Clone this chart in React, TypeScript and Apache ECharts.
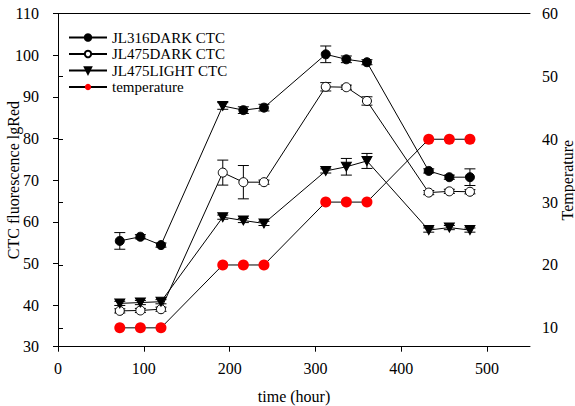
import React, { useEffect, useRef } from "react";
import * as echarts from "echarts";

const times = [72, 96, 120, 192, 216, 240, 312, 336, 360, 432, 456, 480];
const jl316Dark = [55.4, 56.4, 54.4, 87.8, 86.8, 87.4, 100.2, 99.0, 98.3, 72.2, 70.7, 70.7];
const jl316DarkErr = [2, 0.5, 0.5, 0.8, 0.8, 0.8, 2, 0.8, 0.6, 0.5, 0.5, 2];
const jl475Dark = [38.6, 38.7, 39.0, 71.8, 69.5, 69.5, 92.4, 92.3, 89.0, 67.0, 67.3, 67.2];
const jl475DarkErr = [0.5, 0.5, 0.5, 3, 4, 0.5, 1, 0.5, 1, 0.5, 0.5, 0.5];
const jl475Light = [40.4, 40.6, 40.8, 61.1, 60.3, 59.6, 72.2, 73.2, 74.6, 58.0, 58.6, 58.0];
const jl475LightErr = [0.5, 0.5, 0.5, 0.5, 0.5, 0.5, 0.5, 2, 1.8, 0.5, 0.5, 0.5];
const temperature = [10, 10, 10, 20, 20, 20, 30, 30, 30, 40, 40, 40];

const seriesNames = ["JL316DARK CTC", "JL475DARK CTC", "JL475LIGHT CTC", "temperature"];
const xTicks = [0, 100, 200, 300, 400, 500];
const leftTicks = [30, 40, 50, 60, 70, 80, 90, 100, 110];
const rightTicks = [10, 20, 30, 40, 50, 60];

const FONT = "Liberation Serif";

function errSeries(vals: number[], errs: number[]) {
  return {
    type: "custom",
    xAxisIndex: 0,
    yAxisIndex: 0,
    z: 1,
    silent: true,
    data: times.map((t, i) => [t, vals[i], errs[i]]),
    encode: { x: 0, y: 1 },
    renderItem: (params: any, api: any) => {
      const x = api.value(0);
      const y = api.value(1);
      const e = api.value(2);
      const hi = api.coord([x, y + e]);
      const lo = api.coord([x, y - e]);
      const w = 5.5;
      const style = { stroke: "#000", lineWidth: 1 };
      return {
        type: "group",
        children: [
          { type: "line", shape: { x1: hi[0], y1: hi[1], x2: lo[0], y2: lo[1] }, style },
          { type: "line", shape: { x1: hi[0] - w, y1: hi[1], x2: hi[0] + w, y2: hi[1] }, style },
          { type: "line", shape: { x1: lo[0] - w, y1: lo[1], x2: lo[0] + w, y2: lo[1] }, style },
        ],
      };
    },
  };
}

export default function App() {
  const ref = useRef<HTMLDivElement>(null);
  useEffect(() => {
    document.body.style.margin = "0";
    const chart = echarts.init(ref.current!, null, { renderer: "svg" });
    const axisLine = { show: true, lineStyle: { color: "#000", width: 1 } };
    const lbl = { color: "#000", fontSize: 16, fontFamily: FONT };
    const nameStyle = { color: "#000", fontSize: 16, fontFamily: FONT };
    chart.setOption({
      animation: false,
      backgroundColor: "#fff",
      textStyle: { fontFamily: FONT },
      grid: {
        left: 58,
        right: 45,
        top: 13.5,
        bottom: 59.3,
        containLabel: false,
        outerBoundsMode: "none",
      },
      legend: {
        data: seriesNames,
        orient: "vertical",
        left: 63,
        top: 25,
        itemWidth: 38,
        itemHeight: 8,
        itemGap: 1.5,
        textStyle: { color: "#000", fontSize: 15, fontFamily: FONT },
      },
      xAxis: [
        {
          type: "value",
          min: 0,
          max: 550,
          interval: 100,
          name: "time (hour)",
          nameLocation: "middle",
          nameGap: 42,
          nameMoveOverlap: false,
          nameTextStyle: nameStyle,
          axisLine,
          axisTick: { show: true, inside: false, length: 5, customValues: xTicks, lineStyle: { color: "#000" } },
          axisLabel: { ...lbl, margin: 14, customValues: xTicks },
          splitLine: { show: false },
        },
        {
          type: "value",
          position: "top",
          min: 0,
          max: 550,
          axisLine,
          axisTick: { show: false },
          axisLabel: { show: false },
          splitLine: { show: false },
        },
      ],
      yAxis: [
        {
          type: "value",
          min: 30,
          max: 110,
          interval: 10,
          name: "CTC fluorescence lgRed",
          nameLocation: "middle",
          nameRotate: 90,
          nameGap: 37,
          nameMoveOverlap: false,
          nameTextStyle: nameStyle,
          axisLine,
          axisTick: { show: true, inside: false, length: 5, customValues: leftTicks, lineStyle: { color: "#000" } },
          axisLabel: { ...lbl, margin: 19, customValues: leftTicks },
          splitLine: { show: false },
        },
        {
          type: "value",
          position: "right",
          min: 7,
          max: 60,
          name: "Temperature",
          nameLocation: "middle",
          nameRotate: 90,
          nameGap: 29,
          nameMoveOverlap: false,
          nameTextStyle: nameStyle,
          axisLine,
          axisTick: { show: true, inside: false, length: 5, customValues: rightTicks, lineStyle: { color: "#000" } },
          axisLabel: { ...lbl, margin: 12, customValues: rightTicks },
          splitLine: { show: false },
        },
      ],
      series: [
        errSeries(jl316Dark, jl316DarkErr),
        errSeries(jl475Dark, jl475DarkErr),
        errSeries(jl475Light, jl475LightErr),
        {
          name: seriesNames[0],
          type: "line",
          yAxisIndex: 0,
          z: 3,
          symbol: "circle",
          symbolSize: 9,
          showAllSymbol: true,
          lineStyle: { color: "#000", width: 1 },
          itemStyle: { color: "#000", borderColor: "#000", borderWidth: 1 },
          data: times.map((t, i) =>
            i === 3
              ? { value: [t, jl316Dark[i]], symbol: "triangle", symbolRotate: 180, symbolSize: [10, 9] }
              : [t, jl316Dark[i]]
          ),
        },
        {
          name: seriesNames[1],
          type: "line",
          yAxisIndex: 0,
          z: 3,
          symbol: "circle",
          symbolSize: 9,
          showAllSymbol: true,
          lineStyle: { color: "#000", width: 1 },
          itemStyle: { color: "#fff", borderColor: "#000", borderWidth: 1 },
          data: times.map((t, i) => [t, jl475Dark[i]]),
        },
        {
          name: seriesNames[2],
          type: "line",
          yAxisIndex: 0,
          z: 3,
          symbol: "triangle",
          symbolRotate: 180,
          symbolSize: [10, 9],
          showAllSymbol: true,
          lineStyle: { color: "#000", width: 1 },
          itemStyle: { color: "#000", borderColor: "#000", borderWidth: 1 },
          data: times.map((t, i) => [t, jl475Light[i]]),
        },
        {
          name: seriesNames[3],
          type: "line",
          yAxisIndex: 1,
          z: 3,
          symbol: "circle",
          symbolSize: 11,
          showAllSymbol: true,
          lineStyle: { color: "#000", width: 1 },
          itemStyle: { color: "#ff0000", borderWidth: 0 },
          data: times.map((t, i) => [t, temperature[i]]),
        },
      ],
    });
    return () => chart.dispose();
  }, []);
  return <div ref={ref} style={{ width: 575, height: 406 }} />;
}
